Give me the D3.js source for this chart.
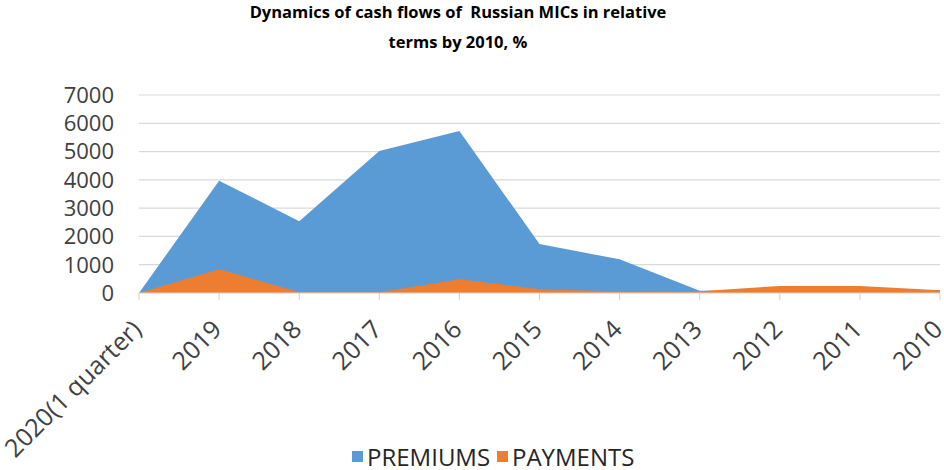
<!DOCTYPE html>
<html lang="en">
<head>
    <meta charset="UTF-8">
    <script src="https://cdn.jsdelivr.net/npm/d3@7"></script>
    <title>Cash flows of Russian MICs</title>
    <style>
        body { margin: 0; background: white; }
        .title { font-family: 'Liberation Sans Narrow', 'Open Sans', sans-serif; font-weight: bold; font-size: 16.5px; fill: #000; white-space: pre; }
        .tick-y { font-family: 'Open Sans', sans-serif; font-size: 22px; fill: #404040; }
        .tick-x { font-family: 'Open Sans', sans-serif; font-size: 25px; fill: #404040; }
        .legend { font-family: 'Liberation Sans Narrow', 'Open Sans', sans-serif; font-size: 24px; fill: #262626; }
    </style>
</head>
<body>
<div id="chart"></div>
<script>
    const categories = ["2020(1 quarter)", "2019", "2018", "2017", "2016", "2015", "2014", "2013", "2012", "2011", "2010"];
    const premiums = [0, 3970, 2540, 5020, 5730, 1730, 1190, 80, 100, 100, 100];
    const payments = [0, 840, 30, 30, 490, 130, 50, 60, 250, 250, 100];
    const yTicks = [0, 1000, 2000, 3000, 4000, 5000, 6000, 7000];
    const seriesNames = ["PREMIUMS", "PAYMENTS"];
    const colors = ["#5b9bd5", "#ed7d31"];

    const width = 944, height = 470;
    const svg = d3.select("#chart").append("svg")
        .attr("width", width)
        .attr("height", height);

    // title
    const title = svg.append("text").attr("class", "title").attr("text-anchor", "middle");
    title.append("tspan").attr("x", 458).attr("y", 18).text("Dynamics of cash flows of  Russian MICs in relative");
    title.append("tspan").attr("x", 458).attr("y", 48).text("terms by 2010, %");

    const x = d3.scalePoint().domain(categories).range([139, 940]);
    const y = d3.scaleLinear().domain([0, 7000]).range([293, 95]);

    // gridlines
    svg.append("g").selectAll("line")
        .data(yTicks.filter(d => d > 0))
        .enter().append("line")
        .attr("x1", 139).attr("x2", 940)
        .attr("y1", d => y(d)).attr("y2", d => y(d))
        .attr("stroke", "#d9d9d9").attr("stroke-width", 1.2);

    // y labels
    svg.append("g").selectAll("text")
        .data(yTicks)
        .enter().append("text")
        .attr("class", "tick-y")
        .attr("x", 114)
        .attr("y", d => y(d))
        .attr("dy", "0.36em")
        .attr("text-anchor", "end")
        .text(d => d);

    const area = vals => d3.area()
        .x((d, i) => x(categories[i]))
        .y0(y(0))
        .y1(d => y(d))(vals);

    svg.append("path").attr("d", area(premiums)).attr("fill", colors[0]);
    svg.append("path").attr("d", area(payments)).attr("fill", colors[1]);

    // x axis
    const xAxis = svg.append("g");
    xAxis.append("line")
        .attr("x1", 139).attr("x2", 940)
        .attr("y1", y(0)).attr("y2", y(0))
        .attr("stroke", "#d0d0d0").attr("stroke-width", 1);
    xAxis.selectAll("line.tick")
        .data(categories)
        .enter().append("line")
        .attr("class", "tick")
        .attr("x1", d => x(d)).attr("x2", d => x(d))
        .attr("y1", y(0)).attr("y2", y(0) + 7)
        .attr("stroke", "#d0d0d0");
    xAxis.selectAll("text")
        .data(categories)
        .enter().append("text")
        .attr("class", "tick-x")
        .attr("text-anchor", "end")
        .attr("transform", d => `translate(${x(d) + 4},${y(0) + 38}) rotate(-45)`)
        .text(d => d);

    // legend
    const legend = svg.append("g");
    const legendX = [352, 497];
    seriesNames.forEach((name, i) => {
        legend.append("rect")
            .attr("x", legendX[i]).attr("y", 451)
            .attr("width", 11).attr("height", 11)
            .attr("fill", colors[i]);
        legend.append("text")
            .attr("class", "legend")
            .attr("x", legendX[i] + 15).attr("y", 466)
            .text(name);
    });
</script>
</body>
</html>
